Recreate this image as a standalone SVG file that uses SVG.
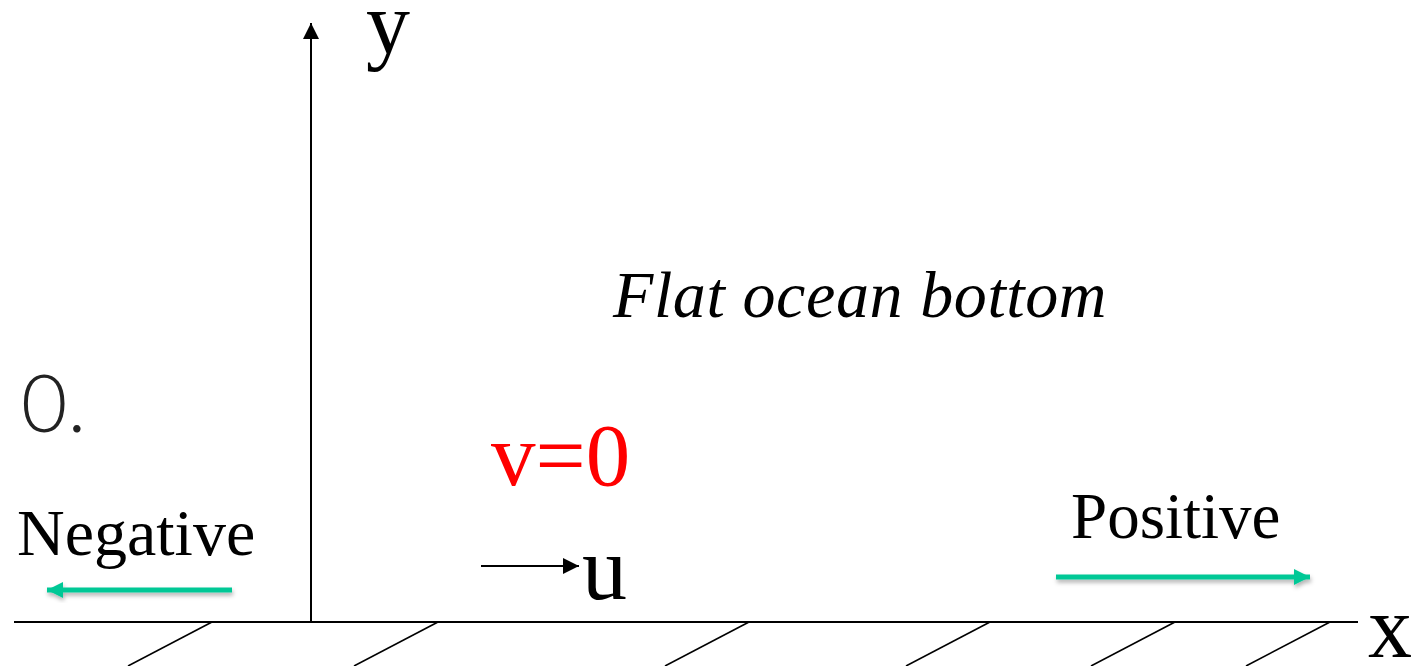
<svg xmlns="http://www.w3.org/2000/svg" width="1423" height="666" viewBox="0 0 1423 666">
<style>
.serif{font-family:"Liberation Serif","Times New Roman",serif;fill:#000}
.axis{stroke:#000;stroke-width:2;fill:none}
.hatch{stroke:#000;stroke-width:1.6;fill:none}
.green{stroke:#00C896;stroke-width:5;fill:none}
</style>
<defs>
<marker id="blackHead" markerWidth="16" markerHeight="16" refX="16" refY="8" orient="auto" markerUnits="userSpaceOnUse">
<path d="M0,0 L16,8 L0,16 Z" fill="#000"/>
</marker>
<marker id="greenHead" markerWidth="18" markerHeight="16" refX="16" refY="8" orient="auto" markerUnits="userSpaceOnUse">
<path d="M0,0 L16,8 L0,16 Z" fill="#00C896"/>
</marker>
<filter id="shadow" x="-10%" y="-100%" width="120%" height="300%">
<feDropShadow dx="1" dy="3" stdDeviation="2" flood-color="#000" flood-opacity="0.3"/>
</filter>
</defs>
<g id="ground">
<line class="axis" x1="14" y1="622" x2="1358" y2="622"/>
<line class="hatch" x1="212" y1="622" x2="128" y2="666"/>
<line class="hatch" x1="438" y1="622" x2="354" y2="666"/>
<line class="hatch" x1="749" y1="622" x2="665" y2="666"/>
<line class="hatch" x1="990" y1="622" x2="906" y2="666"/>
<line class="hatch" x1="1175" y1="622" x2="1091" y2="666"/>
<line class="hatch" x1="1330" y1="622" x2="1246" y2="666"/>
</g>
<g id="connectors">
<line class="axis" x1="311" y1="622" x2="311" y2="23" marker-end="url(#blackHead)"/>
<line stroke="#000" stroke-width="2" x1="481" y1="566" x2="579" y2="566" marker-end="url(#blackHead)"/>
<g filter="url(#shadow)">
<line class="green" x1="232" y1="590" x2="47" y2="590" marker-end="url(#greenHead)"/>
<line class="green" x1="1056" y1="577" x2="1310" y2="577" marker-end="url(#greenHead)"/>
</g>
</g>
<g id="label-y"><text class="serif" x="366" y="53" font-size="88">y</text></g>
<g id="label-x"><text class="serif" x="1368" y="657" font-size="88">x</text></g>
<g id="label-u"><text class="serif" x="582" y="599" font-size="90">u</text></g>
<g id="label-zero"><text x="21" y="432" font-size="80" font-family="Lato,'Open Sans','Liberation Sans',sans-serif" font-weight="300" fill="#222">0.</text></g>
<g id="label-negative"><text class="serif" x="17" y="555" font-size="66">Negative</text></g>
<g id="label-positive"><text class="serif" x="1071" y="538" font-size="65">Positive</text></g>
<g id="label-v"><text x="491" y="485" font-size="89" font-family="'Liberation Serif','Times New Roman',serif" fill="#FF0000">v=0</text></g>
<g id="label-flat"><text class="serif" x="613" y="317" font-size="66" font-style="italic" letter-spacing="0.6">Flat ocean bottom</text></g>
</svg>
